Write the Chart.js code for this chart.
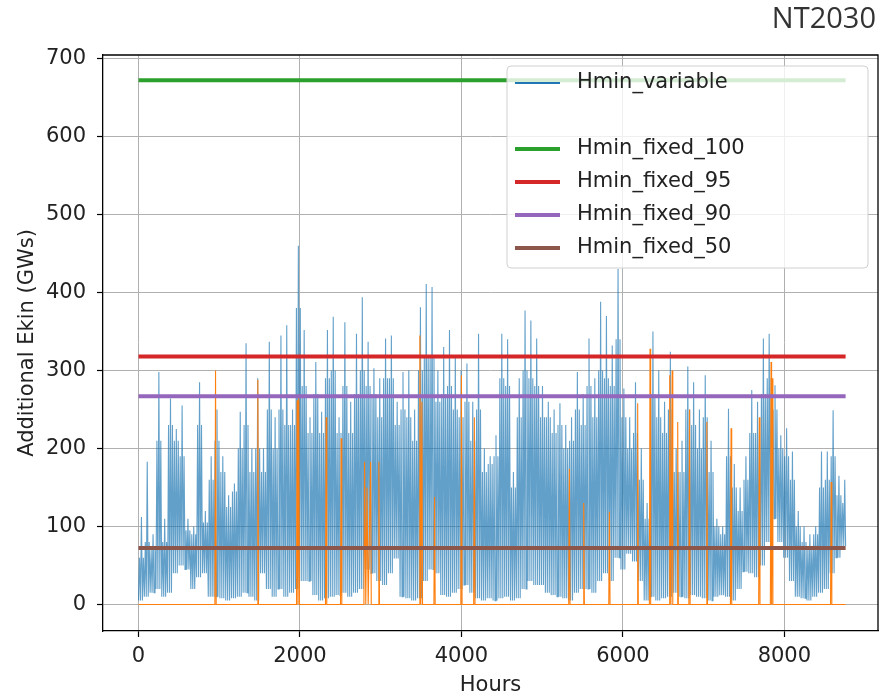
<!DOCTYPE html>
<html>
<head>
<meta charset="utf-8">
<script src="https://cdn.jsdelivr.net/npm/chart.js@4.4.1/dist/chart.umd.min.js"></script>
<style>
  html, body { margin: 0; padding: 0; background: #fff; }
  canvas { display: block; }
</style>
</head>
<body>
<canvas id="ekinChart" width="881" height="698"></canvas>
<script>
// Hmin_variable per 3-day window:
// the highest spike, the usual daily high and the daily low
const windowHours = 72;
const variableHigh = [
  112, 183, 90, 298, 110, 264, 225, 255, 110, 100,
  285, 120, 190, 250, 190, 140, 155, 247, 335, 200,
  290, 200, 337, 240, 345, 358, 250, 460, 352, 240,
  311, 247, 352, 369, 240, 362, 260, 347, 394, 337,
  303, 290, 341, 345, 260, 298, 300, 250, 381, 411,
  407, 300, 330, 352, 320, 300, 309, 260, 347, 200,
  190, 217, 347, 340, 170, 290, 377, 364, 341, 280,
  260, 250, 258, 230, 240, 298, 270, 341, 290, 388,
  370, 332, 430, 277, 240, 285, 200, 130, 350, 300,
  260, 324, 200, 210, 305, 285, 250, 294, 210, 110,
  100, 251, 180, 150, 190, 275, 260, 341, 347, 281,
  217, 226, 196, 120, 100, 90, 100, 196, 196, 249,
  165, 160
];
const variableBody = [
  60, 80, 70, 210, 80, 230, 210, 190, 95, 90,
  230, 105, 160, 210, 170, 125, 145, 200, 230, 170,
  200, 170, 250, 200, 250, 230, 230, 380, 280, 220,
  270, 220, 290, 300, 220, 280, 220, 270, 300, 280,
  270, 240, 290, 290, 230, 250, 240, 210, 300, 320,
  320, 260, 270, 280, 250, 240, 260, 210, 250, 170,
  180, 190, 290, 280, 150, 240, 300, 290, 280, 240,
  240, 220, 230, 200, 210, 250, 230, 280, 240, 300,
  290, 280, 340, 240, 200, 220, 160, 110, 270, 240,
  220, 250, 170, 170, 250, 230, 200, 240, 170, 100,
  90, 190, 150, 120, 160, 220, 220, 270, 290, 250,
  200, 190, 160, 100, 80, 75, 90, 150, 160, 190,
  140, 130
];
const variableLow = [
  5, 10, 15, 20, 10, 15, 40, 50, 45, 20,
  35, 40, 10, 10, 8, 5, 8, 10, 15, 10,
  5, 40, 20, 10, 20, 10, 15, 20, 30, 30,
  12, 5, 8, 10, 12, 15, 10, 15, 20, 45,
  40, 30, 25, 40, 59, 10, 8, 5, 8, 30,
  45, 40, 12, 10, 15, 20, 25, 15, 8, 5,
  8, 5, 8, 10, 5, 8, 20, 30, 25, 25,
  15, 12, 10, 8, 5, 15, 20, 20, 15, 30,
  40, 30, 60, 45, 65, 55, 30, 5, 10, 5,
  8, 10, 15, 10, 8, 12, 10, 8, 5, 10,
  12, 10, 5, 20, 42, 40, 35, 50, 80, 110,
  80, 60, 30, 10, 8, 5, 10, 15, 20, 40,
  60, 75
];

// unlabelled second series: zero most of the year, short spikes
const spikeHours = [
  0, 946, 954, 962, 1470, 1478, 1486, 1957, 1965, 1975, 1985, 1993,
  2316, 2324, 2332, 2502, 2510, 2518, 2792, 2800, 2815, 2830, 2845, 2875, 2883,
  2969, 2977, 2985, 3477, 3485, 3497, 3510, 3518, 3659, 3667, 3675,
  3992, 4000, 4008, 4152, 4160, 4168, 5329, 5337, 5345, 5507, 5515, 5523,
  5825, 5833, 5841, 6175, 6183, 6191, 6328, 6336, 6344,
  6572, 6580, 6595, 6610, 6618, 6671, 6679, 6687, 6817, 6825, 6833,
  7032, 7040, 7048, 7332, 7340, 7348, 7682, 7690, 7698,
  7827, 7835, 7842, 7850, 7858, 8572, 8580, 8588, 8759
];
const spikeValues = [
  0, 0, 300, 0, 0, 288, 0, 0, 262, 0, 266, 0,
  0, 240, 0, 0, 213, 0, 0, 183, 0, 150, 0, 183, 0,
  0, 183, 0, 0, 345, 0, 260, 0, 0, 138, 0,
  0, 294, 0, 0, 240, 0, 0, 174, 0, 0, 130, 0,
  0, 119, 0, 0, 258, 0, 0, 328, 0,
  0, 294, 0, 300, 0, 0, 234, 0, 0, 250, 0,
  0, 234, 0, 0, 226, 0, 0, 240, 0,
  0, 311, 0, 290, 0, 0, 157, 0, 0
];

// constant levels
const fixedLabels = ['Hmin_fixed_100', 'Hmin_fixed_95', 'Hmin_fixed_90', 'Hmin_fixed_50'];
const fixedValues = [672, 318, 267, 72.5];
const firstHour = 0;
const lastHour = 8759;

const xTicks = [0, 2000, 4000, 6000, 8000];
const yTicks = [0, 100, 200, 300, 400, 500, 600, 700];

const fixedColors = ['#2ca02c', '#d62728', '#9467bd', '#8c564b'];
const FONT = 'DejaVu Sans';

// one low/high swing per day: usual high, spike, usual high in each window
const variablePoints = [];
variableHigh.forEach((hi, k) => {
  const start = k * windowHours;
  const lo = variableLow[k];
  const day = [variableBody[k], hi, variableBody[k]];
  day.forEach((top, d) => {
    const h = start + d * 24;
    if (h > lastHour) return;
    variablePoints.push({ x: h, y: lo });
    variablePoints.push({ x: Math.min(h + 12, lastHour), y: top });
  });
});
variablePoints.push({ x: lastHour, y: variableLow[variableLow.length - 1] });

const spikePoints = spikeHours.map((h, i) => ({ x: h, y: spikeValues[i] }));

const datasets = [
  {
    label: 'Hmin_variable',
    data: variablePoints,
    borderColor: 'rgba(31,119,180,0.7)',
    legendColor: '#1f77b4',
    borderWidth: 1.1,
    order: 10
  },
  {
    label: '',
    data: spikePoints,
    borderColor: '#ff7f0e',
    borderWidth: 1.1,
    order: 9
  }
];
fixedLabels.forEach((label, i) => {
  datasets.push({
    label: label,
    data: [{ x: firstHour, y: fixedValues[i] }, { x: lastHour, y: fixedValues[i] }],
    borderColor: fixedColors[i],
    borderWidth: 4,
    order: 8 - i
  });
});

// top/right spines, legend box and figure title
const decorations = {
  id: 'decorations',
  afterDatasetsDraw(chart) {
    const { ctx, chartArea: a } = chart;
    ctx.save();
    ctx.strokeStyle = '#000';
    ctx.lineWidth = 1.3;
    ctx.beginPath();
    ctx.moveTo(a.left, a.top);
    ctx.lineTo(a.right, a.top);
    ctx.lineTo(a.right, a.bottom);
    ctx.stroke();

    // legend
    const bx = a.right - 371, by = a.top + 11, bw = 361, bh = 202;
    ctx.beginPath();
    ctx.roundRect(bx, by, bw, bh, 4);
    ctx.fillStyle = 'rgba(255,255,255,0.8)';
    ctx.fill();
    ctx.strokeStyle = '#d0d0d0';
    ctx.lineWidth = 1;
    ctx.stroke();

    ctx.font = '21px "' + FONT + '"';
    ctx.textBaseline = 'middle';
    ctx.textAlign = 'left';
    chart.data.datasets.forEach((ds, i) => {
      if (!ds.label) return;
      const y = by + 17 + i * 33;
      ctx.strokeStyle = ds.legendColor || ds.borderColor;
      ctx.lineWidth = i === 0 ? 1.8 : 4;
      ctx.beginPath();
      ctx.moveTo(bx + 8, y);
      ctx.lineTo(bx + 53, y);
      ctx.stroke();
      ctx.fillStyle = '#222';
      ctx.fillText(ds.label, bx + 70, y);
    });

    ctx.font = '29px "Open Sans"';
    ctx.textAlign = 'right';
    ctx.fillStyle = '#333';
    ctx.fillText('NT2030', 876, 20);
    ctx.restore();
  }
};

new Chart(document.getElementById('ekinChart'), {
  type: 'line',
  data: { datasets },
  options: {
    responsive: false,
    animation: false,
    events: [],
    layout: { padding: { top: 55, right: 3, left: 0, bottom: 0 } },
    plugins: { legend: { display: false }, tooltip: { enabled: false } },
    elements: { point: { radius: 0 }, line: { tension: 0 } },
    scales: {
      x: {
        type: 'linear',
        min: -440,
        max: 9160,
        afterFit: s => { s.height = 67; },
        afterBuildTicks: s => { s.ticks = xTicks.map(v => ({ value: v })); },
        grid: { color: '#b0b0b0', lineWidth: 1, tickColor: '#000', tickLength: 6, tickWidth: 1.2 },
        border: { color: '#000', width: 1.3 },
        ticks: {
          color: '#222', font: { family: FONT, size: 21 }, padding: 7,
          maxRotation: 0, autoSkip: false, callback: v => String(v)
        },
        title: {
          display: true, text: 'Hours', color: '#222',
          font: { family: FONT, size: 21 }, padding: { top: 0, bottom: 0 }
        }
      },
      y: {
        min: -34,
        max: 704.5,
        afterFit: s => { s.width = 103; },
        afterBuildTicks: s => { s.ticks = yTicks.map(v => ({ value: v })); },
        grid: { color: '#b0b0b0', lineWidth: 1, tickColor: '#000', tickLength: 6, tickWidth: 1.2 },
        border: { color: '#000', width: 1.3 },
        ticks: {
          color: '#222', font: { family: FONT, size: 21 }, padding: 11,
          autoSkip: false, callback: v => String(v)
        },
        title: {
          display: true, text: 'Additional Ekin (GWs)', color: '#222',
          font: { family: FONT, size: 21 }, padding: { top: 15, bottom: 0 }
        }
      }
    }
  },
  plugins: [decorations]
});
</script>
</body>
</html>
